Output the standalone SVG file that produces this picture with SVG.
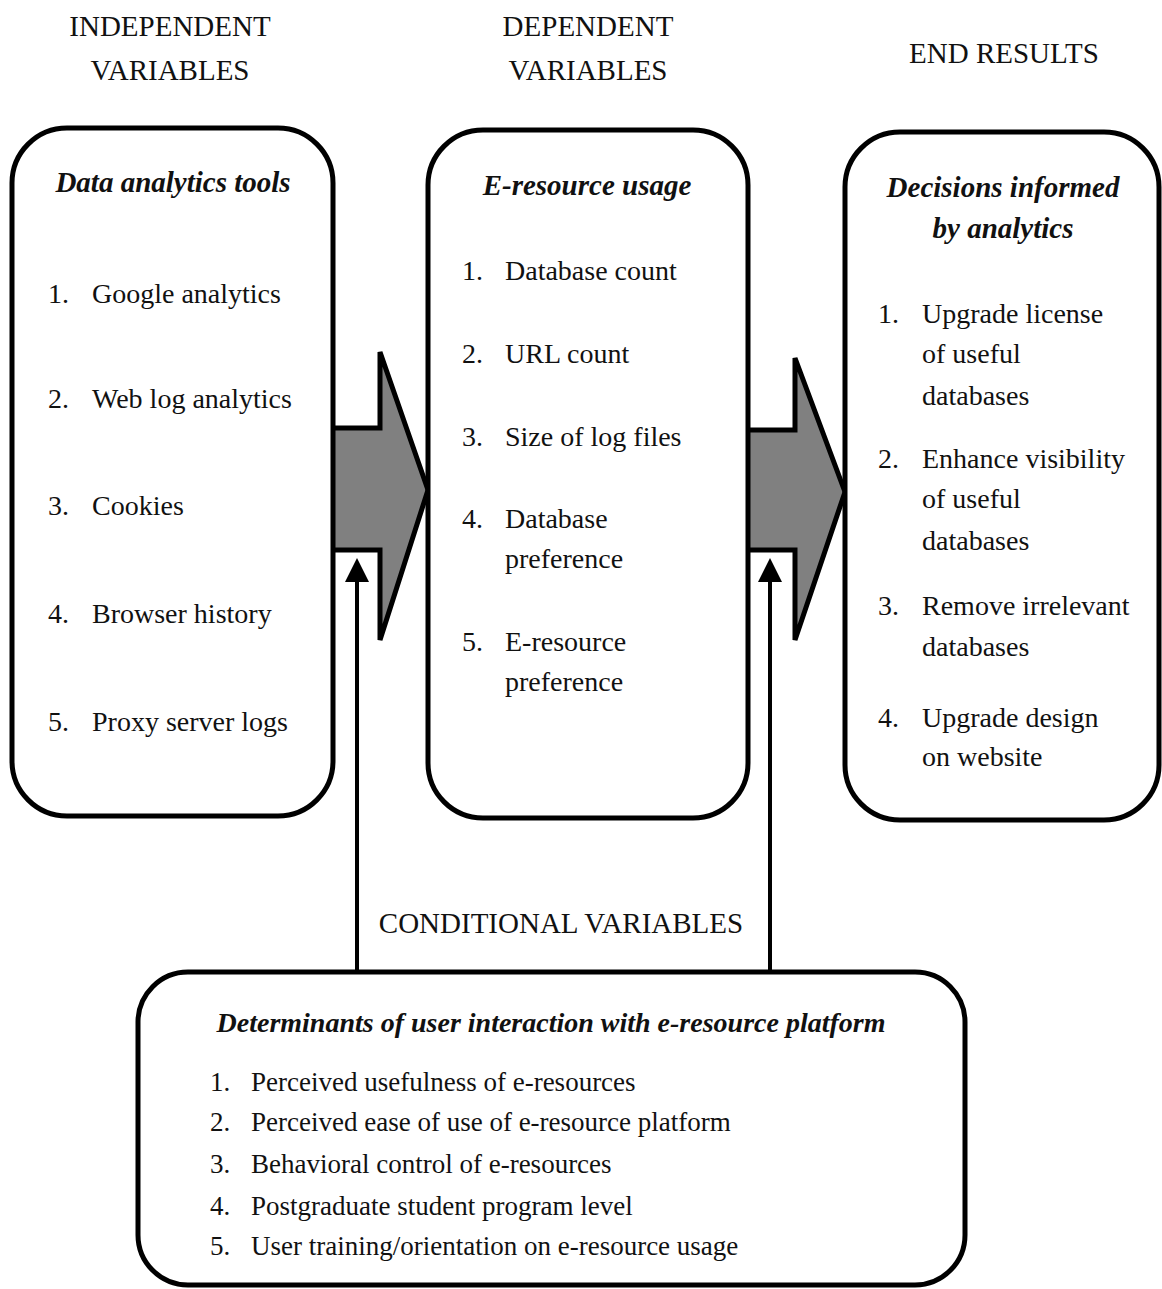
<svg xmlns="http://www.w3.org/2000/svg" width="1162" height="1289" viewBox="0 0 1162 1289">
<style>
text{font-family:"Liberation Serif","Times New Roman",serif;fill:#111;}
.h{font-size:29px;text-anchor:middle;}
.t{font-size:29px;font-style:italic;font-weight:bold;text-anchor:middle;}
.i{font-size:28px;}
.b{font-size:27px;}
.box{fill:#fff;stroke:#000;stroke-width:5;}
.big{fill:#808080;stroke:#000;stroke-width:5;stroke-linejoin:miter;}
.ln{stroke:#000;stroke-width:4;fill:none;}
</style>
<defs>
<marker id="ah" markerWidth="6" markerHeight="6" refX="5" refY="3" orient="auto" markerUnits="strokeWidth">
<path d="M0,0 L6,3 L0,6 z" fill="#000"/>
</marker>
</defs>
<rect width="1162" height="1289" fill="#fff"/>
<g id="headers">
<text class="h" x="170" y="36">INDEPENDENT</text>
<text class="h" x="170" y="80">VARIABLES</text>
<text class="h" x="588" y="36">DEPENDENT</text>
<text class="h" x="588" y="80">VARIABLES</text>
<text class="h" x="1004" y="63">END RESULTS</text>
<text class="h" x="561" y="933">CONDITIONAL  VARIABLES</text>
</g>
<g id="connectors">
<path class="big" d="M333,428 L380,428 L380,352 L428,490 L380,640 L380,550 L333,550"/>
<path class="big" d="M748,430 L795,430 L795,358 L845,492 L795,640 L795,550 L748,550"/>
<line class="ln" x1="357" y1="972" x2="357" y2="562" marker-end="url(#ah)"/>
<line class="ln" x1="770" y1="972" x2="770" y2="562" marker-end="url(#ah)"/>
</g>
<g id="independent">
<rect class="box" x="12" y="128" width="321" height="688" rx="55" ry="55"/>
<text class="t" x="173" y="192">Data analytics tools</text>
<text class="i" x="48" y="303">1.</text><text class="i" x="92" y="303">Google analytics</text>
<text class="i" x="48" y="408">2.</text><text class="i" x="92" y="408">Web log analytics</text>
<text class="i" x="48" y="515">3.</text><text class="i" x="92" y="515">Cookies</text>
<text class="i" x="48" y="623">4.</text><text class="i" x="92" y="623">Browser history</text>
<text class="i" x="48" y="731">5.</text><text class="i" x="92" y="731">Proxy server logs</text>
</g>
<g id="dependent">
<rect class="box" x="428" y="130" width="320" height="688" rx="55" ry="55"/>
<text class="t" x="587" y="195">E-resource  usage</text>
<text class="i" x="462" y="280">1.</text><text class="i" x="505" y="280">Database count</text>
<text class="i" x="462" y="363">2.</text><text class="i" x="505" y="363">URL count</text>
<text class="i" x="462" y="446">3.</text><text class="i" x="505" y="446">Size of log files</text>
<text class="i" x="462" y="528">4.</text><text class="i" x="505" y="528">Database</text>
<text class="i" x="505" y="568">preference</text>
<text class="i" x="462" y="651">5.</text><text class="i" x="505" y="651">E-resource</text>
<text class="i" x="505" y="691">preference</text>
</g>
<g id="endresults">
<rect class="box" x="845" y="132" width="314" height="688" rx="55" ry="55"/>
<text class="t" x="1003" y="197">Decisions informed</text>
<text class="t" x="1003" y="238">by analytics</text>
<text class="i" x="878" y="323">1.</text><text class="i" x="922" y="323">Upgrade license</text>
<text class="i" x="922" y="363">of useful</text>
<text class="i" x="922" y="405">databases</text>
<text class="i" x="878" y="468">2.</text><text class="i" x="922" y="468">Enhance visibility</text>
<text class="i" x="922" y="508">of useful</text>
<text class="i" x="922" y="550">databases</text>
<text class="i" x="878" y="615">3.</text><text class="i" x="922" y="615">Remove irrelevant</text>
<text class="i" x="922" y="656">databases</text>
<text class="i" x="878" y="727">4.</text><text class="i" x="922" y="727">Upgrade design</text>
<text class="i" x="922" y="766">on website</text>
</g>
<g id="conditional">
<rect class="box" x="138" y="972" width="827" height="313" rx="50" ry="50"/>
<text class="t" x="551" y="1032" style="font-size:28px">Determinants of user interaction with e-resource platform</text>
<text class="b" x="210" y="1091">1.</text><text class="b" x="251" y="1091">Perceived usefulness  of e-resources</text>
<text class="b" x="210" y="1131">2.</text><text class="b" x="251" y="1131">Perceived ease of use of e-resource platform</text>
<text class="b" x="210" y="1173">3.</text><text class="b" x="251" y="1173">Behavioral control of e-resources</text>
<text class="b" x="210" y="1215">4.</text><text class="b" x="251" y="1215">Postgraduate student program level</text>
<text class="b" x="210" y="1255">5.</text><text class="b" x="251" y="1255">User training/orientation on e-resource usage</text>
</g>
</svg>
